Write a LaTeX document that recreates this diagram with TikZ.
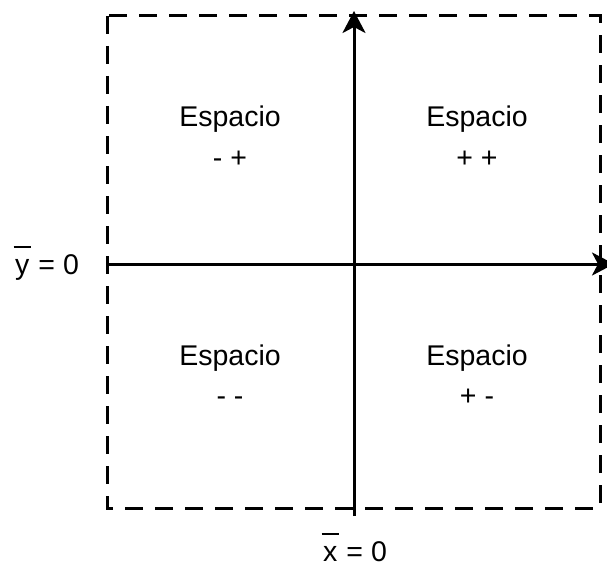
\documentclass[tikz,border=0pt]{standalone}
\usepackage{fontspec}
\setmainfont{Liberation Sans}
\usetikzlibrary{arrows.meta}
\newcommand{\ovbar}[1]{\vbox{\offinterlineskip\hbox{\kern-1.5pt\vrule width 17pt height 2pt depth 0pt}\kern 11pt\hbox{#1}}}
\begin{document}
\begin{tikzpicture}[x=1pt,y=-1pt,
  txt/.style={font=\fontsize{28.5}{40}\selectfont, inner sep=0pt, anchor=base},
  axis/.style={line width=3pt, -{Stealth[length=22pt,width=23pt,inset=6pt]}},
  box/.style={line width=3pt, dash pattern=on 18pt off 12pt}]
\clip (0,0) rectangle (607,567);
\useasboundingbox (0,0) rectangle (607,567);
\draw[box] (107,16) rectangle (600,508);
\coordinate (hs) at (107,264);
\coordinate (he) at (614,264);
\coordinate (vs) at (354,516);
\coordinate (ve) at (354,11);
\draw[axis] (hs) -- (he);
\draw[axis] (vs) -- (ve);
\node[txt] (q2a) at (230,127) {Espacio};
\node[txt] (q2b) at (230,167) {- +};
\node[txt] (q1a) at (477,127) {Espacio};
\node[txt] (q1b) at (477,167) {+ +};
\node[txt] (q3a) at (230,365) {Espacio};
\node[txt] (q3b) at (230,405) {- -};
\node[txt] (q4a) at (477,365) {Espacio};
\node[txt] (q4b) at (477,405) {+ -};
\node[txt] (ly) at (47,274) {\ovbar{y} = 0};
\node[txt] (lx) at (355,561) {\ovbar{x} = 0};
\end{tikzpicture}
\end{document}
